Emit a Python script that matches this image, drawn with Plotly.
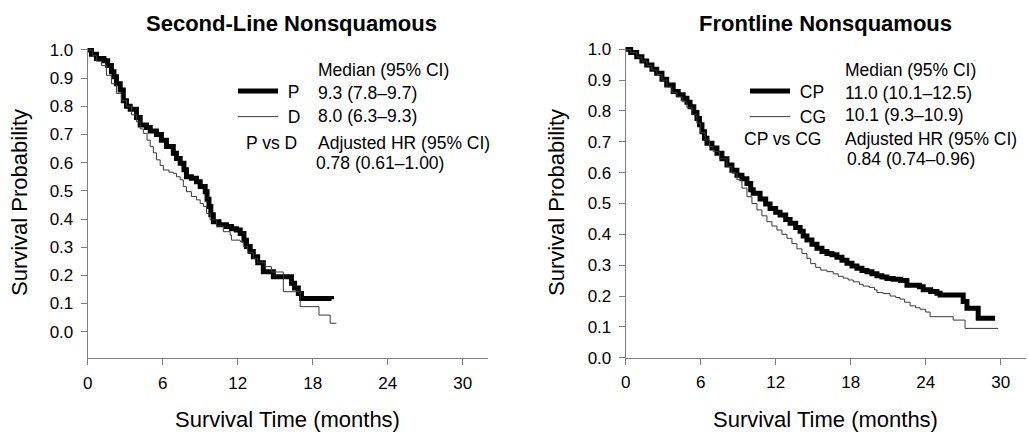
import plotly.graph_objects as go

W, H = 1028, 433

# ---------------- data ----------------
p_time = [0, 0.3, 0.7, 1.3, 1.6, 1.9, 2.1, 2.3, 2.6, 2.85, 3.1, 3.4, 3.9, 4.2, 4.7, 5.0, 5.5, 5.9,
          6.3, 6.85, 7.1, 7.4, 7.7, 7.9, 8.3, 8.7, 9.0, 9.4, 9.55, 9.7, 9.85, 10.05, 10.5, 11.1,
          11.5, 11.9, 12.2, 12.5, 12.7, 13.0, 13.25, 13.6, 14.05, 14.85, 16.3, 16.55, 16.85, 17.1, 19.5]
p_surv = [1.0, 0.985, 0.97, 0.962, 0.945, 0.923, 0.905, 0.88, 0.858, 0.82, 0.80, 0.79, 0.76, 0.734,
          0.725, 0.712, 0.70, 0.68, 0.657, 0.633, 0.615, 0.598, 0.575, 0.55, 0.545, 0.532, 0.515,
          0.497, 0.47, 0.444, 0.415, 0.39, 0.38, 0.373, 0.365, 0.361, 0.349, 0.325, 0.302, 0.285,
          0.266, 0.245, 0.213, 0.195, 0.172, 0.155, 0.136, 0.118, 0.115]

d_time = [0, 0.4, 0.7, 1.1, 1.5, 1.9, 2.3, 2.7, 3.1, 3.5, 3.9, 4.2, 4.45, 4.75, 5.0, 5.25, 5.5, 5.8,
          6.05, 6.5, 6.85, 7.1, 7.4, 7.65, 7.9, 8.3, 8.7, 9.0, 9.25, 9.5, 9.8, 10.3, 10.85, 11.4,
          11.5, 12.2, 12.45, 12.8, 13.25, 13.6, 14.2, 14.7, 15.65, 17.0, 18.5, 19.4, 19.9]
d_surv = [1.0, 0.98, 0.96, 0.945, 0.91, 0.88, 0.846, 0.82, 0.80, 0.77, 0.745, 0.72, 0.704, 0.68,
          0.657, 0.635, 0.61, 0.59, 0.574, 0.566, 0.562, 0.55, 0.539, 0.515, 0.497, 0.48, 0.468,
          0.455, 0.444, 0.42, 0.397, 0.375, 0.355, 0.343, 0.325, 0.32, 0.302, 0.28, 0.26, 0.245,
          0.231, 0.212, 0.142, 0.089, 0.059, 0.03, 0.03]

cp_time = [0, 0.4, 0.88, 1.3, 1.68, 2.1, 2.48, 2.9, 3.28, 3.8, 4.2, 4.6, 4.9, 5.15, 5.45, 5.7, 5.9,
           6.1, 6.3, 6.5, 6.9, 7.3, 7.7, 8.1, 8.5, 8.9, 9.3, 9.7, 10.0, 10.2, 10.75, 11.2, 11.55,
           12.0, 12.35, 12.8, 13.15, 13.6, 13.95, 14.2, 14.5, 14.9, 15.3, 15.7, 16.1, 16.5, 16.9,
           17.3, 17.7, 18.1, 18.5, 18.9, 19.3, 19.7, 20.1, 20.5, 20.9, 21.4, 22.0, 22.5, 23.5,
           23.8, 24.4, 24.9, 25.15, 27.0, 27.3, 28.2, 29.55]
cp_surv = [1.0, 0.99, 0.976, 0.962, 0.949, 0.935, 0.922, 0.903, 0.884, 0.863, 0.853, 0.841, 0.828,
           0.814, 0.795, 0.776, 0.755, 0.733, 0.712, 0.695, 0.68, 0.663, 0.645, 0.625, 0.608,
           0.592, 0.58, 0.565, 0.545, 0.533, 0.515, 0.498, 0.484, 0.472, 0.463, 0.448, 0.436,
           0.422, 0.41, 0.395, 0.382, 0.368, 0.355, 0.344, 0.338, 0.334, 0.326, 0.316, 0.306,
           0.297, 0.29, 0.283, 0.279, 0.272, 0.266, 0.262, 0.257, 0.254, 0.25, 0.235, 0.23,
           0.22, 0.215, 0.209, 0.203, 0.182, 0.16, 0.128, 0.128]

cg_time = [0, 0.4, 0.9, 1.3, 1.7, 2.1, 2.5, 2.9, 3.3, 3.7, 4.1, 4.5, 4.9, 5.3, 5.7, 6.0, 6.35, 6.7,
           7.0, 7.5, 8.1, 8.5, 8.9, 9.3, 9.7, 10.1, 10.5, 10.9, 11.3, 11.7, 12.1, 12.5, 12.9, 13.3,
           13.7, 14.1, 14.5, 14.8, 15.2, 15.6, 16.1, 16.6, 17.0, 17.4, 17.8, 18.2, 18.7, 19.0,
           19.5, 19.9, 20.1, 20.6, 21.15, 21.6, 21.95, 22.3, 22.75, 23.2, 23.55, 24.0, 24.35,
           26.2, 27.15, 29.8]
cg_surv = [1.0, 0.99, 0.975, 0.962, 0.948, 0.933, 0.918, 0.9, 0.878, 0.86, 0.846, 0.83, 0.812,
           0.788, 0.76, 0.73, 0.706, 0.685, 0.668, 0.645, 0.619, 0.598, 0.577, 0.55, 0.522, 0.5,
           0.479, 0.46, 0.441, 0.427, 0.414, 0.4, 0.387, 0.37, 0.353, 0.338, 0.322, 0.305, 0.293,
           0.284, 0.279, 0.272, 0.264, 0.258, 0.252, 0.246, 0.238, 0.232, 0.228, 0.22, 0.211,
           0.208, 0.2, 0.195, 0.19, 0.18, 0.168, 0.162, 0.157, 0.148, 0.133, 0.122, 0.095, 0.095]

x_ticks = [0, 6, 12, 18, 24, 30]
y_ticks = [0.0, 0.1, 0.2, 0.3, 0.4, 0.5, 0.6, 0.7, 0.8, 0.9, 1.0]
y_ticktext = [f"{v:.1f}" for v in y_ticks]

titles = ["Second-Line Nonsquamous", "Frontline Nonsquamous"]
x_title = "Survival Time (months)"
y_title = "Survival Probability"
left_names = ["P", "D"]
right_names = ["CP", "CG"]
left_table = ["Median (95% CI)", "9.3 (7.8–9.7)", "8.0 (6.3–9.3)", "P vs D",
              "Adjusted HR (95% CI)", "0.78 (0.61–1.00)"]
right_table = ["Median (95% CI)", "11.0 (10.1–12.5)", "10.1 (9.3–10.9)", "CP vs CG",
               "Adjusted HR (95% CI)", "0.84 (0.74–0.96)"]

# ---------------- styling ----------------
FONT = "Arial, Liberation Sans, sans-serif"
THICK = dict(color="black", width=5)
THIN = dict(color="#3a3a3a", width=1)
AX_COLOR = "#7f7f7f"
TXT = 17.5
BIG = 22


def px_x(px):
    return px / W


def px_y(py):
    return 1 - py / H


fig = go.Figure()

fig.add_trace(go.Scatter(x=p_time, y=p_surv, mode="lines", line=THICK, line_shape="hv",
                         name="\u00a0" + left_names[0], xaxis="x", yaxis="y", legend="legend"))
fig.add_trace(go.Scatter(x=d_time, y=d_surv, mode="lines", line=THIN, line_shape="hv",
                         name="\u00a0" + left_names[1], xaxis="x", yaxis="y", legend="legend"))
fig.add_trace(go.Scatter(x=cp_time, y=cp_surv, mode="lines", line=THICK, line_shape="hv",
                         name="\u00a0" + right_names[0], xaxis="x2", yaxis="y2", legend="legend2"))
fig.add_trace(go.Scatter(x=cg_time, y=cg_surv, mode="lines", line=THIN, line_shape="hv",
                         name="\u00a0" + right_names[1], xaxis="x2", yaxis="y2", legend="legend2"))

common_x = dict(range=[0, 32], tickvals=x_ticks, ticks="outside", ticklen=6, tickwidth=1,
                tickcolor=AX_COLOR, showline=True, linecolor=AX_COLOR, linewidth=1,
                showgrid=False, zeroline=False, automargin=False,
                tickfont=dict(family=FONT, size=17, color="black"),
                ticklabelstandoff=3, fixedrange=True)
common_y = dict(tickvals=y_ticks, ticktext=y_ticktext, ticks="outside", ticklen=6, tickwidth=1,
                tickcolor=AX_COLOR, showline=True, linecolor=AX_COLOR, linewidth=1,
                showgrid=False, zeroline=False, automargin=False,
                tickfont=dict(family=FONT, size=17, color="black"),
                ticklabelstandoff=4, fixedrange=True)

# pixel frames of the two panels
L_x0, L_x1, L_top, L_bot = 87.7, 487.7, 48, 358.3
R_x0, R_x1, R_top, R_bot = 625.7, 1025.7, 47, 357.7

fig.update_layout(
    template="none",
    width=W, height=H, margin=dict(l=0, r=0, t=0, b=0, autoexpand=False),
    paper_bgcolor="white", plot_bgcolor="white",
    font=dict(family=FONT, color="black"),
    xaxis=dict(domain=[px_x(L_x0), px_x(L_x1)], anchor="y", **common_x),
    yaxis=dict(domain=[px_y(L_bot), px_y(L_top)], anchor="x", range=[-0.0944, 1.007], **common_y),
    xaxis2=dict(domain=[px_x(R_x0), px_x(R_x1)], anchor="y2", **common_x),
    yaxis2=dict(domain=[px_y(R_bot), px_y(R_top)], anchor="x2", range=[0, 1.0075], **common_y),
    legend=dict(x=px_x(233), y=px_y(73), xanchor="left", yanchor="top",
                font=dict(family=FONT, size=TXT, color="black"), bgcolor="rgba(0,0,0,0)",
                borderwidth=0, itemwidth=40, tracegroupgap=0),
    legend2=dict(x=px_x(745), y=px_y(73), xanchor="left", yanchor="top",
                 font=dict(family=FONT, size=TXT, color="black"), bgcolor="rgba(0,0,0,0)",
                 borderwidth=0, itemwidth=40, tracegroupgap=0),
)

ann = []


def text(x, y, s, size=TXT, xanchor="left", bold=False):
    ann.append(dict(x=px_x(x), y=px_y(y), xref="paper", yref="paper",
                    text=f"<b>{s}</b>" if bold else s,
                    showarrow=False, xanchor=xanchor, yanchor="middle",
                    font=dict(family=FONT, size=size, color="black")))


# titles
text(291, 23, titles[0], size=BIG, xanchor="center", bold=True)
text(825, 23, titles[1], size=BIG, xanchor="center", bold=True)
# axis titles
text((L_x0 + L_x1) / 2, 419, x_title, size=BIG, xanchor="center")
text((R_x0 + R_x1) / 2, 419, x_title, size=BIG, xanchor="center")
for cx in (20, 557):
    ann.append(dict(x=px_x(cx), y=px_y(203), xref="paper", yref="paper", text=y_title,
                    showarrow=False, textangle=-90, xanchor="center", yanchor="middle",
                    font=dict(family=FONT, size=BIG, color="black")))

# in-plot tables
lt = left_table
text(316, 70, lt[0])
text(316, 93, lt[1])
text(316, 116, lt[2])
text(299, 143, lt[3], xanchor="right")
text(316, 143, lt[4])
text(314, 163, lt[5])

rt = right_table
text(843, 70, rt[0])
text(843, 93, rt[1])
text(843, 115, rt[2])
text(823, 139, rt[3], xanchor="right")
text(843, 139, rt[4])
text(845, 159, rt[5])

fig.update_layout(annotations=ann)

fig.write_html("out.html", config={"displayModeBar": False},
               post_script="document.body.style.margin='0';document.body.style.padding='0';")
